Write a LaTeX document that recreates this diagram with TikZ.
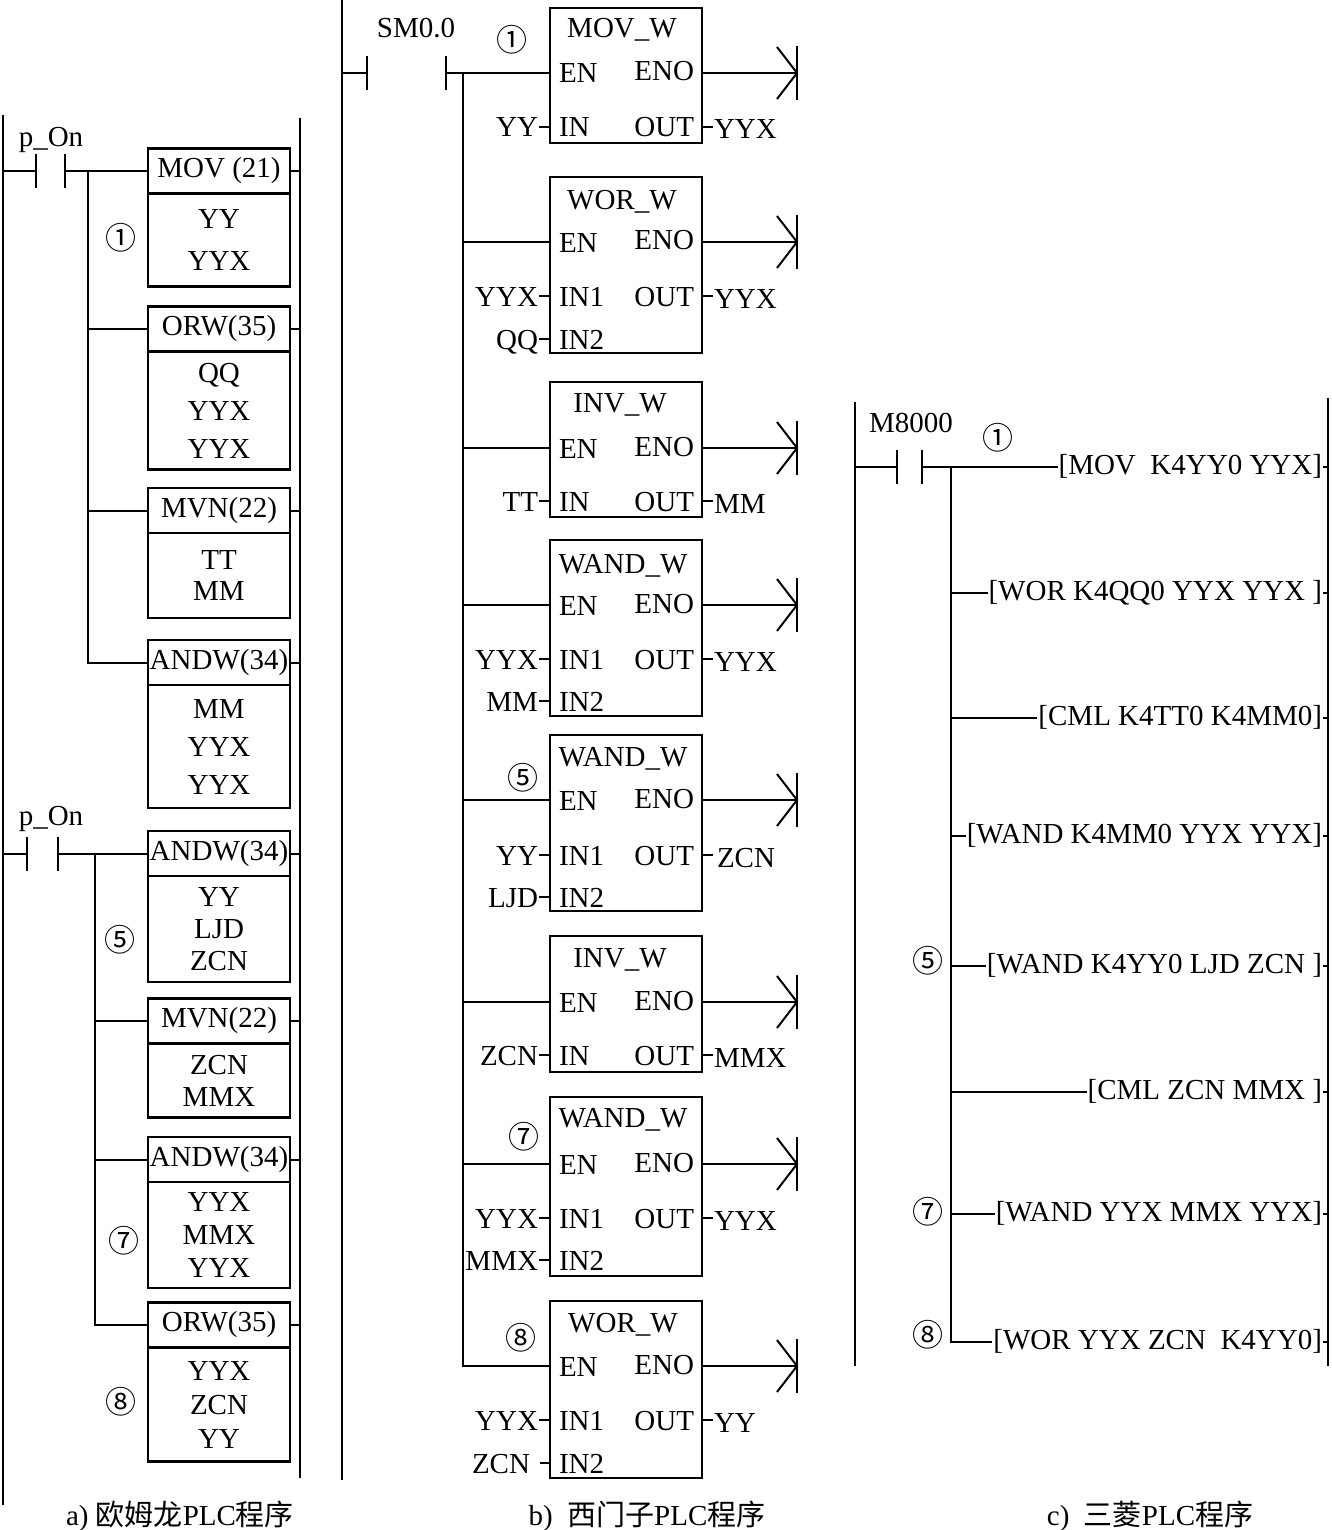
\documentclass[tikz,border=0pt]{standalone}
\usepackage{fontspec}
\setmainfont{Liberation Serif}
\newfontfamily\cjk{Noto Sans CJK SC}
\usetikzlibrary{positioning}

\begin{document}
\begin{tikzpicture}[x=1pt,y=-1pt,line width=2pt,
  font=\fontsize{29}{29}\selectfont,
  txt/.style={inner sep=0pt,text height=20pt,text depth=0pt},
  rail/.style={line width=2.5pt},
  ohead/.style={draw,line width=2.4pt,outer sep=0pt,minimum width=142pt,minimum height=45pt,inner sep=0pt},
  obody/.style 2 args={draw,line width=2.4pt,outer sep=0pt,anchor=north,minimum width=142pt,
    minimum height=#1,inner sep=0pt,align=center,font=\fontsize{29}{#2}\selectfont},
  sbox/.style={draw,line width=2.4pt,outer sep=0pt,minimum width=152pt,minimum height=#1,inner sep=0pt},
  pinl/.style={txt,anchor=west},
  pinr/.style={txt,anchor=east},
  num/.style={inner sep=0pt,font=\cjk\fontsize{31}{31}\selectfont},
  instr/.style={anchor=east,inner sep=0pt,text height=20pt,text depth=5pt}]

  \useasboundingbox (0,0) rectangle (1331,1530);

  % a) Omron
  \coordinate (aL) at (3,115);
  \coordinate (aR) at (300,118);
  \draw[rail] (aL) -- ++(0,1390);
  \draw[rail] (aR) -- ++(0,1360);

  \node[ohead] (a1) at (219,171) {MOV (21)};
  \node[obody={93pt}{42pt}] (a1b) at (a1.south) {YY\\YYX};
  \node[ohead] (a2) at (219,329) {ORW(35)};
  \node[obody={118pt}{38pt}] (a2b) at (a2.south) {QQ\\YYX\\YYX};
  \node[ohead] (a3) at (219,510.5) {MVN(22)};
  \node[obody={85pt}{31pt}] (a3b) at (a3.south) {TT\\MM};
  \node[ohead] (a4) at (219,662.5) {ANDW(34)};
  \node[obody={123pt}{38pt}] (a4b) at (a4.south) {MM\\YYX\\YYX};
  \node[ohead] (a5) at (219,853.5) {ANDW(34)};
  \node[obody={106pt}{32pt}] (a5b) at (a5.south) {YY\\LJD\\ZCN};
  \node[ohead] (a6) at (219,1021) {MVN(22)};
  \node[obody={74pt}{32pt}] (a6b) at (a6.south) {ZCN\\MMX};
  \node[ohead] (a7) at (219,1159.5) {ANDW(34)};
  \node[obody={106pt}{33pt}] (a7b) at (a7.south) {YYX\\MMX\\YYX};
  \node[ohead] (a8) at (219,1325) {ORW(35)};
  \node[obody={114pt}{34pt}] (a8b) at (a8.south) {YYX\\ZCN\\YY};

  \node[num] (na1) at (121,238) {①};
  \node[num] (na5) at (120,940) {⑤};
  \node[num] (na7) at (124,1241) {⑦};
  \node[num] (na8) at (121,1402) {⑧};

  \node[txt] (pon1) at (51,137) {p\_On};
  \coordinate (ka1) at (36,171);
  \coordinate (kb1) at (65,171);
  \draw (ka1) ++(0,-17) -- ++(0,34);
  \draw (kb1) ++(0,-17) -- ++(0,34);
  \draw (aL |- ka1) -- (ka1);
  \draw (kb1) -- (a1.west);
  \coordinate (busa) at (88,171);
  \draw (busa) -- (busa |- a4.west) -- (a4.west);
  \draw (busa |- a2.west) -- (a2.west);
  \draw (busa |- a3.west) -- (a3.west);

  \node[txt] (pon2) at (51,815) {p\_On};
  \coordinate (ka2) at (27,853.5);
  \coordinate (kb2) at (58,853.5);
  \draw (ka2) ++(0,-17) -- ++(0,34);
  \draw (kb2) ++(0,-17) -- ++(0,34);
  \draw (aL |- ka2) -- (ka2);
  \draw (kb2) -- (a5.west);
  \coordinate (busa2) at (95,853.5);
  \draw (busa2) -- (busa2 |- a8.west) -- (a8.west);
  \draw (busa2 |- a6.west) -- (a6.west);
  \draw (busa2 |- a7.west) -- (a7.west);

  \draw (a1.east) -- (a1.east -| aR);
  \draw (a2.east) -- (a2.east -| aR);
  \draw (a3.east) -- (a3.east -| aR);
  \draw (a4.east) -- (a4.east -| aR);
  \draw (a5.east) -- (a5.east -| aR);
  \draw (a6.east) -- (a6.east -| aR);
  \draw (a7.east) -- (a7.east -| aR);
  \draw (a8.east) -- (a8.east -| aR);

  \node[txt] (capa) at (180,1515) {a) {\cjk 欧姆龙}PLC{\cjk 程序}};

  % b) Siemens
  \coordinate (sL) at (342,0);
  \draw[rail] (sL) -- ++(0,1480);
  \node[txt] (sm) at (416,28) {SM0.0};
  \coordinate (ks1) at (367,73);
  \coordinate (ks2) at (446,73);
  \draw (ks1) ++(0,-17) -- ++(0,34);
  \draw (ks2) ++(0,-17) -- ++(0,34);
  \draw (sL |- ks1) -- (ks1);
  \coordinate (busb) at (463,73);

  \node[sbox=135pt] (b1) at (626,75.5) {};
  \node[txt] (b1t) at (622,28) {MOV\_W};
  \node[pinl] (b1en) at (558,73) {EN};
  \node[pinr] (b1eno) at (695,71) {ENO};
  \node[pinl] (b1in) at (558,127) {IN};
  \node[pinr] (b1out) at (695,127) {OUT};
  \node[pinr] (b1x) at (539,127) {YY};
  \node[pinl] (b1y) at (713,129) {YYX};
  \coordinate (e1) at (797,73);

  \node[sbox=176pt] (b2) at (626,265) {};
  \node[txt] (b2t) at (622,200) {WOR\_W};
  \node[pinl] (b2en) at (558,242) {EN};
  \node[pinr] (b2eno) at (695,240) {ENO};
  \node[pinl] (b2in) at (558,296) {IN1};
  \node[pinl] (b2in2) at (558,339) {IN2};
  \node[pinr] (b2out) at (695,296) {OUT};
  \node[pinr] (b2x) at (539,296) {YYX};
  \node[pinr] (b2x2) at (539,339) {QQ};
  \node[pinl] (b2y) at (713,298) {YYX};
  \coordinate (e2) at (797,242);

  \node[sbox=135pt] (b3) at (626,449.5) {};
  \node[txt] (b3t) at (620,402) {INV\_W};
  \node[pinl] (b3en) at (558,448) {EN};
  \node[pinr] (b3eno) at (695,446) {ENO};
  \node[pinl] (b3in) at (558,501) {IN};
  \node[pinr] (b3out) at (695,501) {OUT};
  \node[pinr] (b3x) at (539,501) {TT};
  \node[pinl] (b3y) at (713,503) {MM};
  \coordinate (e3) at (797,448);

  \node[sbox=176pt] (b4) at (626,628) {};
  \node[txt] (b4t) at (623,563) {WAND\_W};
  \node[pinl] (b4en) at (558,605) {EN};
  \node[pinr] (b4eno) at (695,603) {ENO};
  \node[pinl] (b4in) at (558,659) {IN1};
  \node[pinl] (b4in2) at (558,701) {IN2};
  \node[pinr] (b4out) at (695,659) {OUT};
  \node[pinr] (b4x) at (539,659) {YYX};
  \node[pinr] (b4x2) at (539,701) {MM};
  \node[pinl] (b4y) at (713,661) {YYX};
  \coordinate (e4) at (797,605);

  \node[sbox=176pt] (b5) at (626,823) {};
  \node[txt] (b5t) at (623,756) {WAND\_W};
  \node[pinl] (b5en) at (558,800) {EN};
  \node[pinr] (b5eno) at (695,798) {ENO};
  \node[pinl] (b5in) at (558,855) {IN1};
  \node[pinl] (b5in2) at (558,897) {IN2};
  \node[pinr] (b5out) at (695,855) {OUT};
  \node[pinr] (b5x) at (539,855) {YY};
  \node[pinr] (b5x2) at (539,897) {LJD};
  \node[pinl] (b5y) at (716,857) {ZCN};
  \coordinate (e5) at (797,800);

  \node[sbox=136pt] (b6) at (626,1004) {};
  \node[txt] (b6t) at (620,957) {INV\_W};
  \node[pinl] (b6en) at (558,1002) {EN};
  \node[pinr] (b6eno) at (695,1000) {ENO};
  \node[pinl] (b6in) at (558,1055) {IN};
  \node[pinr] (b6out) at (695,1055) {OUT};
  \node[pinr] (b6x) at (539,1055) {ZCN};
  \node[pinl] (b6y) at (713,1057) {MMX};
  \coordinate (e6) at (797,1002);

  \node[sbox=179pt] (b7) at (626,1186.5) {};
  \node[txt] (b7t) at (623,1117) {WAND\_W};
  \node[pinl] (b7en) at (558,1164) {EN};
  \node[pinr] (b7eno) at (695,1162) {ENO};
  \node[pinl] (b7in) at (558,1218) {IN1};
  \node[pinl] (b7in2) at (558,1260) {IN2};
  \node[pinr] (b7out) at (695,1218) {OUT};
  \node[pinr] (b7x) at (539,1218) {YYX};
  \node[pinr] (b7x2) at (539,1260) {MMX};
  \node[pinl] (b7y) at (713,1220) {YYX};
  \coordinate (e7) at (797,1164);

  \node[sbox=177pt] (b8) at (626,1389.5) {};
  \node[txt] (b8t) at (623,1322) {WOR\_W};
  \node[pinl] (b8en) at (558,1366) {EN};
  \node[pinr] (b8eno) at (695,1364) {ENO};
  \node[pinl] (b8in) at (558,1420) {IN1};
  \node[pinl] (b8in2) at (558,1463) {IN2};
  \node[pinr] (b8out) at (695,1420) {OUT};
  \node[pinr] (b8x) at (539,1420) {YYX};
  \node[pinr] (b8x2) at (531,1463) {ZCN};
  \node[pinl] (b8y) at (713,1422) {YY};
  \coordinate (e8) at (797,1366);

  \node[num] (nb1) at (512,40) {①};
  \node[num] (nb5) at (523,778) {⑤};
  \node[num] (nb7) at (524,1137) {⑦};
  \node[num] (nb8) at (521,1338) {⑧};

  \draw (ks2) -- (b1.west |- ks2);
  \draw (busb) -- (busb |- e8) -- (b8.west |- e8);
  \draw (busb |- e2) -- (b2.west |- e2);
  \draw (busb |- e3) -- (b3.west |- e3);
  \draw (busb |- e4) -- (b4.west |- e4);
  \draw (busb |- e5) -- (b5.west |- e5);
  \draw (busb |- e6) -- (b6.west |- e6);
  \draw (busb |- e7) -- (b7.west |- e7);

  % input and output ticks
  \draw (b1x.east) -- (b1x.east -| b1.west);
  \draw (b2x.east) -- (b2x.east -| b2.west);
  \draw (b2x2.east) -- (b2x2.east -| b2.west);
  \draw (b3x.east) -- (b3x.east -| b3.west);
  \draw (b4x.east) -- (b4x.east -| b4.west);
  \draw (b4x2.east) -- (b4x2.east -| b4.west);
  \draw (b5x.east) -- (b5x.east -| b5.west);
  \draw (b5x2.east) -- (b5x2.east -| b5.west);
  \draw (b6x.east) -- (b6x.east -| b6.west);
  \draw (b7x.east) -- (b7x.east -| b7.west);
  \draw (b7x2.east) -- (b7x2.east -| b7.west);
  \draw (b8x.east) -- (b8x.east -| b8.west);
  \draw ([xshift=9pt]b8x2.east) -- (b8x2.east -| b8.west);
  \draw (b1.east |- b1out) -- (b1y.west |- b1out);
  \draw (b2.east |- b2out) -- (b2y.west |- b2out);
  \draw (b3.east |- b3out) -- (b3y.west |- b3out);
  \draw (b4.east |- b4out) -- (b4y.west |- b4out);
  \draw (b5.east |- b5out) -- ([xshift=-3pt]b5y.west |- b5out);
  \draw (b6.east |- b6out) -- (b6y.west |- b6out);
  \draw (b7.east |- b7out) -- (b7y.west |- b7out);
  \draw (b8.east |- b8out) -- (b8y.west |- b8out);

  % ENO ends
  \draw (b1.east |- e1) -- (e1);
  \draw (e1) ++(-20,-26) -- (e1) -- ++(-20,26);
  \draw (e1) ++(0,-27) -- ++(0,54);
  \draw (b2.east |- e2) -- (e2);
  \draw (e2) ++(-20,-26) -- (e2) -- ++(-20,26);
  \draw (e2) ++(0,-27) -- ++(0,54);
  \draw (b3.east |- e3) -- (e3);
  \draw (e3) ++(-20,-26) -- (e3) -- ++(-20,26);
  \draw (e3) ++(0,-27) -- ++(0,54);
  \draw (b4.east |- e4) -- (e4);
  \draw (e4) ++(-20,-26) -- (e4) -- ++(-20,26);
  \draw (e4) ++(0,-27) -- ++(0,54);
  \draw (b5.east |- e5) -- (e5);
  \draw (e5) ++(-20,-26) -- (e5) -- ++(-20,26);
  \draw (e5) ++(0,-27) -- ++(0,54);
  \draw (b6.east |- e6) -- (e6);
  \draw (e6) ++(-20,-26) -- (e6) -- ++(-20,26);
  \draw (e6) ++(0,-27) -- ++(0,54);
  \draw (b7.east |- e7) -- (e7);
  \draw (e7) ++(-20,-26) -- (e7) -- ++(-20,26);
  \draw (e7) ++(0,-27) -- ++(0,54);
  \draw (b8.east |- e8) -- (e8);
  \draw (e8) ++(-20,-26) -- (e8) -- ++(-20,26);
  \draw (e8) ++(0,-27) -- ++(0,54);

  \node[txt] (capb) at (647,1515) {b)~~{\cjk 西门子}PLC{\cjk 程序}};

  % c) Mitsubishi
  \coordinate (mL) at (855,402);
  \coordinate (mR) at (1328,398);
  \draw[rail] (mL) -- ++(0,964);
  \draw[rail] (mR) -- ++(0,968);
  \node[txt] (m8000) at (911,422) {M8000};
  \coordinate (km1) at (897,467);
  \coordinate (km2) at (922,467);
  \draw (km1) ++(0,-17) -- ++(0,34);
  \draw (km2) ++(0,-17) -- ++(0,34);
  \draw (mL |- km1) -- (km1);
  \coordinate (busc) at (951,467);

  \node[instr] (m1) at (1323,467) {[MOV~~K4YY0 YYX]};
  \node[instr] (m2) at (1323,593) {[WOR K4QQ0 YYX YYX ]};
  \node[instr] (m3) at (1323,718) {[CML K4TT0 K4MM0]};
  \node[instr] (m4) at (1323,836) {[WAND K4MM0 YYX YYX]};
  \node[instr] (m5) at (1323,966) {[WAND K4YY0 LJD ZCN ]};
  \node[instr] (m6) at (1323,1092) {[CML ZCN MMX ]};
  \node[instr] (m7) at (1323,1214) {[WAND YYX MMX YYX]};
  \node[instr] (m8) at (1323,1342) {[WOR YYX ZCN~~K4YY0]};

  \node[num] (nc1) at (998,438) {①};
  \node[num] (nc5) at (928,961) {⑤};
  \node[num] (nc7) at (928,1212) {⑦};
  \node[num] (nc8) at (928,1335) {⑧};

  \draw (km2) -- (m1.west);
  \draw (busc) -- (busc |- m8.west) -- (m8.west);
  \draw (busc |- m2.west) -- (m2.west);
  \draw (busc |- m3.west) -- (m3.west);
  \draw (busc |- m4.west) -- (m4.west);
  \draw (busc |- m5.west) -- (m5.west);
  \draw (busc |- m6.west) -- (m6.west);
  \draw (busc |- m7.west) -- (m7.west);
  \draw (m1.east) -- (m1.east -| mR);
  \draw (m2.east) -- (m2.east -| mR);
  \draw (m3.east) -- (m3.east -| mR);
  \draw (m4.east) -- (m4.east -| mR);
  \draw (m5.east) -- (m5.east -| mR);
  \draw (m6.east) -- (m6.east -| mR);
  \draw (m7.east) -- (m7.east -| mR);
  \draw (m8.east) -- (m8.east -| mR);

  \node[txt] (capc) at (1150,1515) {c)~~{\cjk 三菱}PLC{\cjk 程序}};

\end{tikzpicture}
\end{document}
